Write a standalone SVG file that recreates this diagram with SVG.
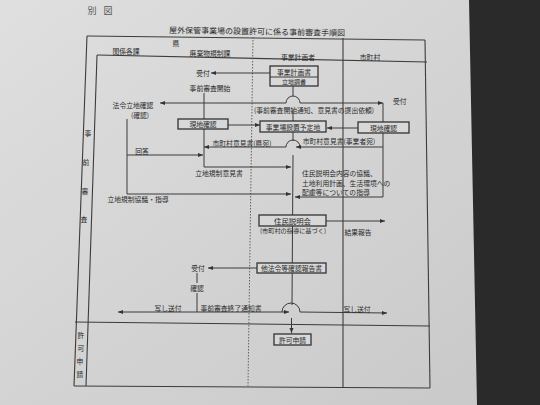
<svg xmlns="http://www.w3.org/2000/svg" width="540" height="405" viewBox="0 0 540 405">
<defs>
<linearGradient id="paper" x1="0" y1="0" x2="1" y2="1">
<stop offset="0" stop-color="#dfdfdf"/><stop offset="1" stop-color="#c8c8c8"/>
</linearGradient>
<marker id="ah" markerUnits="userSpaceOnUse" markerWidth="6" markerHeight="5" refX="5" refY="2.5" orient="auto"><path d="M0,0.5 L5,2.5 L0,4.5 z" fill="#333"/></marker>
<style>
text{font-family:"Noto Sans CJK JP","Noto Sans CJK SC",sans-serif;fill:#2a2a2a;font-size:6.8px;text-anchor:middle;dominant-baseline:central}
.frame{stroke:#3c3c3c;stroke-width:1.1;fill:none}
.dot{stroke:#555;stroke-width:0.9;stroke-dasharray:1.5 1.5;fill:none}
.ln{stroke:#3a3a3a;stroke-width:1;fill:none}
.arr{marker-end:url(#ah)}
.box{fill:#d8d8d8;stroke:#333;stroke-width:1.3}
.l{text-anchor:start}
</style>
</defs>
<rect x="0" y="0" width="540" height="405" fill="url(#paper)"/>
<polygon points="469,0 540,0 540,405 477,405" fill="#2a2a2a"/>

<g id="heading">
<text x="92" y="10" style="font-size:9px;fill:#555">別</text>
<text x="108" y="10" style="font-size:9px;fill:#555">図</text>
<text x="257" y="31" style="font-size:8px" transform="rotate(0.9 257 31)">屋外保管事業場の設置許可に係る事前審査手順図</text>
</g>

<g id="frame">
<line class="frame" x1="87" y1="36" x2="425" y2="40"/>
<line class="frame" x1="97" y1="55" x2="427" y2="62"/>
<line class="frame" x1="87" y1="36" x2="74" y2="386"/>
<line class="frame" x1="97" y1="55" x2="86" y2="386"/>
<line class="dot" x1="253" y1="37" x2="248" y2="386"/>
<line class="frame" x1="343" y1="38" x2="343" y2="387"/>
<line class="frame" x1="425" y1="40" x2="430" y2="388"/>
<line class="frame" x1="75" y1="322" x2="430" y2="326"/>
<line class="frame" x1="74" y1="386" x2="430" y2="388"/>
</g>

<g id="headers">
<text x="176" y="43">県</text>
<text x="126" y="51">関係各課</text>
<text x="210" y="53">廃棄物規制課</text>
<text x="298" y="57">事業計画者</text>
<text x="370" y="57">市町村</text>
<text x="88" y="133">事</text>
<text x="86" y="162">前</text>
<text x="85" y="191">審</text>
<text x="84" y="219">査</text>
<text x="81" y="335">許</text>
<text x="81" y="348">可</text>
<text x="80" y="361">申</text>
<text x="80" y="374">請</text>
</g>

<g id="connectors">
<line class="ln" x1="293" y1="86" x2="293" y2="96"/>
<path class="ln" d="M293,110 L293,141 M293,155 L292,305 M291.5,318 L291.5,333" marker-end="url(#ah)"/>
<line class="ln arr" x1="270" y1="73" x2="211" y2="73"/>
<line class="ln" x1="204" y1="93" x2="204" y2="119"/>
<line class="ln arr" x1="204" y1="103" x2="160" y2="103"/>
<path class="ln arr" d="M204,103 L286,103 A7,7 0 0 1 300,103 L383,103"/>
<line class="ln" x1="383" y1="103" x2="383" y2="197"/>
<line class="ln arr" x1="228" y1="125" x2="260" y2="125"/>
<line class="ln arr" x1="358" y1="128" x2="327" y2="128"/>
<path class="ln arr" d="M383,147 L300,147 A7,7 0 0 0 286,147 L204,147"/>
<line class="ln arr" x1="300" y1="147" x2="296" y2="147"/>
<line class="ln" x1="127" y1="119" x2="127" y2="194"/>
<line class="ln arr" x1="127" y1="155" x2="203" y2="155"/>
<path class="ln arr" d="M204,129 L204,167 L291,167"/>
<line class="ln arr" x1="127" y1="194" x2="291" y2="194"/>
<line class="ln arr" x1="383" y1="197" x2="295" y2="197"/>
<line class="ln arr" x1="326" y1="221" x2="385" y2="221"/>
<line class="ln arr" x1="257" y1="268" x2="208" y2="268"/>
<line class="ln" x1="197" y1="273" x2="197" y2="283"/>
<line class="ln" x1="197" y1="293" x2="197" y2="312"/>
<line class="ln arr" x1="197" y1="312" x2="118" y2="312"/>
<line class="ln arr" x1="197" y1="312" x2="289" y2="312"/>
<path class="ln arr" d="M282,312 A9,9 0 0 1 300,312 L387,313"/>
<text x="203" y="73">受付</text>
<text x="210" y="88">事前審査開始</text>
<text x="133" y="105">法令立地確認</text>
<text x="140" y="115">(確認)</text>
<text x="314" y="110">(事前審査開始通知、意見書の提出依頼)</text>
<text x="393" y="101" class="l">受付</text>
<text x="242" y="143">市町村意見書(県宛)</text>
<text x="339" y="141">市町村意見書(事業者宛)</text>
<text x="142" y="151">回答</text>
<text x="219" y="173">立地規制意見書</text>
<text x="138" y="199">立地規制協議・指導</text>
<text x="302" y="173" class="l">住民説明会内容の協議、</text>
<text x="302" y="183" class="l">土地利用計画、生活環境への</text>
<text x="302" y="192" class="l">配慮等についての指導</text>
<text x="293" y="230" style="font-size:6.2px">(市町村の指導に基づく)</text>
<text x="358" y="232">結果報告</text>
<text x="198" y="268">受付</text>
<text x="197" y="288">確認</text>
<text x="168" y="308">写し送付</text>
<text x="231" y="308">事前審査終了通知書</text>
<text x="357" y="309">写し送付</text>
</g>

<g id="node-plan">
<rect class="box" x="270" y="66" width="48" height="20"/>
<line class="ln" x1="270" y1="77" x2="318" y2="77"/>
<text x="294" y="71.5">事業計画書</text>
<text x="294" y="81.5" style="font-size:6px">立地調書</text>
</g>
<g id="node-genchi-ken">
<rect class="box" x="178" y="119" width="50" height="10"/>
<text x="203" y="124">現地確認</text>
</g>
<g id="node-site">
<rect class="box" x="260" y="121" width="66" height="11"/>
<text x="293" y="126.5">事業場設置予定地</text>
</g>
<g id="node-genchi-shi">
<rect class="box" x="358" y="122" width="51" height="11"/>
<text x="383.5" y="127.5">現地確認</text>
</g>
<g id="node-setsumeikai">
<rect class="box" x="259" y="215" width="67" height="11"/>
<text x="292.5" y="220.5" style="font-size:7.4px">住民説明会</text>
</g>
<g id="node-tahorei">
<rect class="box" x="257" y="263" width="69" height="10"/>
<text x="291.5" y="268">他法令等確認報告書</text>
</g>
<g id="node-kyoka">
<rect class="box" x="274" y="334" width="37" height="11"/>
<text x="292.5" y="339.5">許可申請</text>
</g>
</svg>
